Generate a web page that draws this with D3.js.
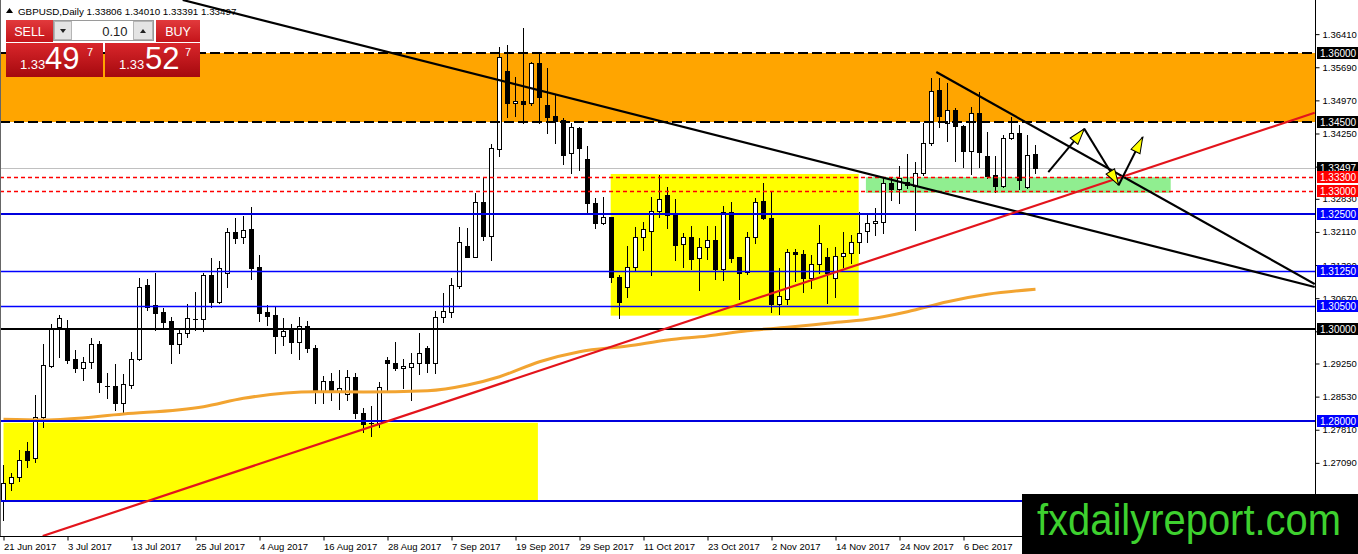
<!DOCTYPE html>
<html>
<head>
<meta charset="utf-8">
<script src="https://cdn.jsdelivr.net/npm/d3@7"></script>
<style>
  body { margin: 0; background: #fff; }
  svg { display: block; font-family: "Liberation Sans", Arial, sans-serif; }
</style>
</head>
<body>
<svg id="chart" width="1358" height="554"></svg>
<script>
// --- daily bars, GBPUSD from 21 Jun 2017 (bar index 0) ---
const opens = [1.26283,1.26645,1.26775,1.27348,1.27188,1.28094,1.29196,1.30051,1.30014,1.29348,
1.29145,1.29290,1.29667,1.28768,1.28761,1.28399,1.28783,1.29341,1.30957,1.30522,
1.30362,1.30181,1.29674,1.29906,1.30210,1.30210,1.31174,1.30594,1.31210,1.32101,
1.31993,1.32167,1.31341,1.30362,1.30304,1.29855,1.29978,1.29710,1.30072,1.29580,
1.28638,1.28870,1.28659,1.28587,1.28949,1.28167,1.27949,1.27949,1.29326,1.29254,
1.29145,1.29181,1.29254,1.29580,1.29254,1.30268,1.30377,1.30942,1.31804,1.31572,
1.32768,1.32029,1.33906,1.35609,1.34906,1.34957,1.34906,1.35775,1.34870,1.34630,
1.34543,1.33819,1.34377,1.33688,1.32732,1.32297,1.32428,1.31138,1.30906,1.31355,
1.31993,1.32138,1.32572,1.32913,1.32478,1.31841,1.31993,1.31536,1.31790,1.31935,
1.31297,1.32551,1.31558,1.31246,1.32007,1.32783,1.32406,1.30536,1.30645,1.31667,
1.31623,1.31101,1.31406,1.31572,1.31101,1.31594,1.31659,1.31884,1.32138,1.32297,
1.32333,1.33181,1.33036,1.33188,1.33109,1.33399,1.34036,1.35196,1.34471,1.34761,
1.34413,1.33877,1.34688,1.33761,1.33348,1.33109,1.34145,1.34254,1.33080,1.33806];

const highs = [1.27043,1.26862,1.27370,1.27551,1.28565,1.29674,1.30109,1.30304,1.30196,1.29543,
1.29399,1.29797,1.29739,1.29036,1.29239,1.29022,1.29493,1.31101,1.31080,1.31210,
1.30449,1.30268,1.30014,1.30543,1.30797,1.31225,1.31536,1.31478,1.32188,1.32406,
1.32457,1.32645,1.31609,1.30522,1.30500,1.30232,1.30109,1.30268,1.30181,1.29652,
1.28978,1.29051,1.29109,1.29109,1.29051,1.28275,1.28326,1.28848,1.29399,1.29725,
1.29341,1.29486,1.29906,1.29620,1.30399,1.30775,1.31101,1.32210,1.32188,1.32949,
1.33275,1.34014,1.36138,1.36174,1.35471,1.36536,1.35812,1.35993,1.35667,1.35087,
1.34580,1.34486,1.34399,1.33978,1.32841,1.32862,1.32442,1.31174,1.31804,1.32225,
1.32333,1.32877,1.33348,1.33080,1.32819,1.32080,1.32239,1.31971,1.32239,1.32239,
1.32681,1.32768,1.31572,1.32116,1.32841,1.33167,1.32971,1.31319,1.31732,1.31732,
1.31717,1.31609,1.32261,1.31754,1.31775,1.32116,1.32043,1.32551,1.32514,1.32623,
1.33275,1.33275,1.33543,1.33804,1.33638,1.34471,1.35449,1.35449,1.35355,1.34797,
1.34428,1.34833,1.35159,1.34290,1.33761,1.34217,1.34616,1.34435,1.34217,1.34010];

const lows = [1.25848,1.26500,1.26703,1.27007,1.27116,1.27877,1.29181,1.29399,1.29254,1.29072,
1.28891,1.29145,1.28623,1.28493,1.28239,1.28152,1.28710,1.29326,1.30413,1.29978,
1.30051,1.29268,1.29486,1.29833,1.29978,1.29964,1.30486,1.30572,1.30920,1.31862,
1.31862,1.31080,1.30181,1.30087,1.29471,1.29652,1.29471,1.29341,1.29507,1.28399,
1.28384,1.28457,1.28254,1.28457,1.28058,1.27768,1.27681,1.27877,1.28674,1.29109,
1.28710,1.28457,1.29022,1.29072,1.29037,1.30159,1.30268,1.30899,1.31558,1.31558,
1.31935,1.31500,1.33761,1.34616,1.34630,1.34471,1.34870,1.34471,1.34268,1.34051,
1.33587,1.33384,1.33457,1.32500,1.32188,1.32283,1.31029,1.30232,1.30703,1.31268,
1.31717,1.31174,1.32442,1.32188,1.31500,1.31355,1.31297,1.30848,1.31514,1.31080,
1.31065,1.31464,1.30645,1.31196,1.31877,1.32384,1.30377,1.30326,1.30543,1.31051,
1.30812,1.30884,1.31210,1.30572,1.30703,1.31355,1.31428,1.31659,1.31899,1.32043,
1.32080,1.32804,1.32746,1.33058,1.32152,1.33348,1.34000,1.34399,1.34094,1.33659,
1.33529,1.33370,1.33514,1.33275,1.32986,1.33080,1.34130,1.33036,1.33058,1.33391];

const closes = [1.26645,1.26775,1.27152,1.27152,1.28094,1.29210,1.30014,1.30232,1.29326,1.29145,
1.29290,1.29667,1.28855,1.28754,1.28399,1.28797,1.29341,1.30920,1.30486,1.30355,
1.30159,1.29667,1.29906,1.30232,1.30225,1.31174,1.30594,1.31319,1.32101,1.31986,
1.32152,1.31333,1.30355,1.30290,1.29855,1.29957,1.29710,1.30072,1.29580,1.28638,
1.28870,1.28674,1.28710,1.28949,1.28167,1.27935,1.27964,1.28732,1.29254,1.29145,
1.29196,1.29268,1.29471,1.29254,1.30267,1.30391,1.30957,1.31884,1.31572,1.32768,
1.32029,1.33928,1.35906,1.34906,1.34957,1.34884,1.35775,1.35051,1.34616,1.34529,
1.33783,1.34384,1.33928,1.32732,1.32297,1.32428,1.31123,1.30594,1.31355,1.31993,
1.32167,1.32572,1.32819,1.32478,1.31826,1.31993,1.31522,1.31790,1.31935,1.31297,
1.32551,1.31551,1.31225,1.32007,1.32768,1.32406,1.30536,1.30725,1.31667,1.31623,
1.31101,1.31406,1.31862,1.31210,1.31594,1.31659,1.31884,1.32080,1.32297,1.32348,
1.33181,1.33036,1.33290,1.33130,1.33399,1.34036,1.35181,1.34638,1.34761,1.34413,
1.33877,1.34688,1.33855,1.33326,1.33109,1.34145,1.34254,1.33239,1.33783,1.33497];

// moving average read at a few bars
const maIdx = [0, 5, 15, 25, 30, 39, 45, 53, 58, 62, 67, 72, 78, 83, 88, 93, 98, 103, 108, 113, 118, 123, 129];
const maVal = [1.28037,1.28022,1.28152,1.28311,1.28493,1.28637,1.28630,1.28659,1.28783,1.28963,1.29289,1.29507,
               1.29630,1.29761,1.29848,1.29963,1.30037,1.30124,1.30211,1.30376,1.30593,1.30754,1.30863];

// axis labels
const dateTickIdx = [0, 8, 16, 24, 32, 40, 48, 56, 64, 72, 80, 88, 96, 104, 112, 120];
const dateTickLabels = ["21 Jun 2017","3 Jul 2017","13 Jul 2017","25 Jul 2017","4 Aug 2017","16 Aug 2017",
  "28 Aug 2017","7 Sep 2017","19 Sep 2017","29 Sep 2017","11 Oct 2017","23 Oct 2017","2 Nov 2017",
  "14 Nov 2017","24 Nov 2017","6 Dec 2017"];
const priceTickLabels = ["1.36410","1.35690","1.34970","1.34250","1.33530","1.32830","1.32110","1.31390",
  "1.30670","1.29950","1.29250","1.28530","1.27810","1.27090","1.26370"];
// ticks whose text sits fully under a price box or the watermark
const hiddenTickLabels = ["1.33530", "1.29950", "1.26370"];

// drawn objects
const orangeZone = [1.36000, 1.34500];
const boxStart = [0, 75.9];
const boxEnd = [66.8, 106.9];
const boxTop = [1.2796, 1.3337];
const boxBottom = [1.2626, 1.3029];
const greenBox = [107.8, 145.9, 1.3330, 1.3296];
const dashedBlackLevels = [1.36000, 1.34500];
const redDashLevels = [1.33300, 1.33000];
const blueThickLevels = [1.32500, 1.28000, 1.26250];
const blueThinLevels = [1.31250, 1.30500];
const blackLevels = [1.30000];
const lastPrice = 1.33497;
const trendIdx = { a: [22.4, 163.9], b: [116.6, 163.9], red: [4.9, 163.9] };
const trendPrice = { a: [1.37152, 1.30913], b: [1.35587, 1.30978], red: [1.25500, 1.34702] };
const arrowIdx = [130.6, 135.1, 139.4, 142.4];
const arrowPrice = [1.3341, 1.3435, 1.3313, 1.3417];
const priceLabels = [1.36, 1.345, 1.33497, 1.333, 1.33, 1.325, 1.3125, 1.305, 1.30, 1.28];
const priceLabelColors = ["#000","#000","#000","#ff0000","#ff0000","#0000ff","#0000ff","#0000ff","#000","#0000ff"];

// --- layout ---
const svg = d3.select("#chart");
const plotR = 1315, plotB = 536;
const font = '"Liberation Sans", Arial, sans-serif';

const x = d3.scaleLinear().domain([0, 164]).range([3.5, 3.5 + 164 * 8]);
const y = d3.scaleLinear().domain([1.255, 1.37152]).range([plotB, 0]);
const crisp = v => Math.round(v) + 0.5;

const defs = svg.append("defs");
defs.append("clipPath").attr("id", "plotClip")
  .append("rect").attr("x", 0).attr("y", 0).attr("width", plotR).attr("height", plotB);

const gHead = defs.append("linearGradient").attr("id", "redHead").attr("x1", 0).attr("y1", 0).attr("x2", 0).attr("y2", 1);
gHead.append("stop").attr("offset", "0%").attr("stop-color", "#e23a3c");
gHead.append("stop").attr("offset", "100%").attr("stop-color", "#c4141a");
const gBig = defs.append("linearGradient").attr("id", "redBig").attr("x1", 0).attr("y1", 0).attr("x2", 0).attr("y2", 1);
gBig.append("stop").attr("offset", "0%").attr("stop-color", "#d9262b");
gBig.append("stop").attr("offset", "100%").attr("stop-color", "#a5090e");

defs.append("marker").attr("id", "yHead")
  .attr("markerUnits", "userSpaceOnUse").attr("viewBox", "0 0 18 12")
  .attr("markerWidth", 18).attr("markerHeight", 12)
  .attr("refX", 17).attr("refY", 6).attr("orient", "auto")
  .append("path").attr("d", "M1,1 L17,6 L1,11 Z")
  .attr("fill", "#ffff00").attr("stroke", "#000").attr("stroke-width", 1);

const plot = svg.append("g").attr("clip-path", "url(#plotClip)");

// zones
plot.append("rect").attr("x", 0).attr("width", plotR)
  .attr("y", y(orangeZone[0])).attr("height", y(orangeZone[1]) - y(orangeZone[0]))
  .attr("fill", "#ffa500");

plot.selectAll("rect.ybox").data(boxStart).enter().append("rect").attr("class", "ybox")
  .attr("x", (d, i) => x(d))
  .attr("width", (d, i) => x(boxEnd[i]) - x(d))
  .attr("y", (d, i) => y(boxTop[i]))
  .attr("height", (d, i) => y(boxBottom[i]) - y(boxTop[i]))
  .attr("fill", "#ffff00");

plot.append("rect")
  .attr("x", x(greenBox[0])).attr("width", x(greenBox[1]) - x(greenBox[0]))
  .attr("y", y(greenBox[2])).attr("height", y(greenBox[3]) - y(greenBox[2]))
  .attr("fill", "#90ee90");

// last price line
plot.append("line").attr("x1", 0).attr("x2", plotR)
  .attr("y1", crisp(y(lastPrice))).attr("y2", crisp(y(lastPrice)))
  .attr("stroke", "#c0c0c0").attr("stroke-width", 1);

// candles
const bars = plot.append("g");
opens.forEach((o, i) => {
  const c = closes[i];
  const cx = x(i);
  bars.append("line").attr("x1", cx).attr("x2", cx)
    .attr("y1", Math.round(y(highs[i]))).attr("y2", Math.round(y(lows[i])) + 1)
    .attr("stroke", "#000").attr("stroke-width", 1);
  const top = crisp(y(Math.max(o, c)));
  const bot = crisp(y(Math.min(o, c)));
  if (bot - top < 1) {
    bars.append("line").attr("x1", cx - 2.5).attr("x2", cx + 2.5)
      .attr("y1", top).attr("y2", top).attr("stroke", "#000");
  } else {
    bars.append("rect").attr("x", cx - 2).attr("width", 4)
      .attr("y", top).attr("height", bot - top)
      .attr("fill", c >= o ? "#fff" : "#000")
      .attr("stroke", "#000").attr("stroke-width", 1);
  }
});

// moving average
const maLine = d3.line().x((d, i) => x(maIdx[i])).y(d => y(d)).curve(d3.curveMonotoneX);
plot.append("path").datum(maVal).attr("d", maLine)
  .attr("fill", "none").attr("stroke", "#f2a431").attr("stroke-width", 3);

// horizontal levels
function hLines(levels, color, width, dash) {
  plot.selectAll(null).data(levels).enter().append("line")
    .attr("x1", 0).attr("x2", plotR)
    .attr("y1", d => Math.round(width) % 2 ? crisp(y(d)) : Math.round(y(d)))
    .attr("y2", d => Math.round(width) % 2 ? crisp(y(d)) : Math.round(y(d)))
    .attr("stroke", color).attr("stroke-width", width)
    .attr("stroke-dasharray", dash);
}
hLines(redDashLevels, "#ff0000", 1.4, "4,3");
hLines(blueThinLevels, "#0000ff", 1.4, null);
hLines(blueThickLevels, "#0000dd", 2, null);
hLines(blackLevels, "#000", 2, null);
hLines(dashedBlackLevels, "#000", 2, "10,4");

// trend lines
[["a", "#000"], ["b", "#000"], ["red", "#e3141c"]].forEach(([k, col]) => {
  plot.append("line")
    .attr("x1", x(trendIdx[k][0])).attr("y1", y(trendPrice[k][0]))
    .attr("x2", x(trendIdx[k][1])).attr("y2", y(trendPrice[k][1]))
    .attr("stroke", col).attr("stroke-width", 2.2);
});

// projected path arrows
for (let i = 0; i < arrowIdx.length - 1; i++) {
  plot.append("line")
    .attr("x1", x(arrowIdx[i])).attr("y1", y(arrowPrice[i]))
    .attr("x2", x(arrowIdx[i + 1])).attr("y2", y(arrowPrice[i + 1]))
    .attr("stroke", "#000").attr("stroke-width", 2)
    .attr("marker-end", "url(#yHead)");
}

// axes
const yAxis = d3.axisRight(y)
  .tickValues(priceTickLabels.map(Number))
  .tickFormat(d => {
    const s = d3.format(".5f")(d);
    return hiddenTickLabels.includes(s) ? "" : s;
  })
  .tickSize(4).tickPadding(3);
const gy = svg.append("g").attr("transform", `translate(${plotR + 0.5},0)`).call(yAxis);
gy.select(".domain").remove();
gy.attr("font-size", 9.5).attr("font-family", font);
gy.selectAll("text").attr("fill", "#000");

const xAxis = d3.axisBottom(x)
  .tickValues(dateTickIdx)
  .tickFormat((d, i) => dateTickLabels[i])
  .tickSize(4).tickPadding(3);
const gx = svg.append("g").attr("transform", `translate(0,${plotB + 0.5})`).call(xAxis);
gx.select(".domain").remove();
gx.attr("font-size", 9.5).attr("font-family", font);
gx.selectAll("text").attr("text-anchor", "start").attr("dx", 0).attr("fill", "#000");

svg.append("line").attr("x1", plotR + 0.5).attr("x2", plotR + 0.5).attr("y1", 0).attr("y2", plotB + 5)
  .attr("stroke", "#000");
svg.append("line").attr("x1", 0).attr("x2", plotR).attr("y1", plotB + 0.5).attr("y2", plotB + 0.5)
  .attr("stroke", "#000");
svg.append("line").attr("x1", 0.5).attr("x2", 0.5).attr("y1", 0).attr("y2", plotB)
  .attr("stroke", "#666");

// price labels on the axis
const pl = svg.append("g").selectAll("g").data(priceLabels).enter().append("g")
  .attr("transform", d => `translate(${plotR + 2},${Math.round(y(d))})`);
pl.append("rect").attr("x", 0).attr("y", -6).attr("width", 41).attr("height", 12)
  .attr("fill", (d, i) => priceLabelColors[i]);
pl.append("text").attr("x", 3).attr("y", 4).attr("font-size", 10).attr("font-family", font)
  .attr("fill", "#fff").text(d => d3.format(".5f")(d));

// header line
svg.append("path").attr("d", "M6,13 L9.5,8 L13,13 Z").attr("fill", "#000");
svg.append("text").attr("x", 18).attr("y", 14.5).attr("font-size", 9.8).attr("font-family", font)
  .attr("fill", "#000").text("GBPUSD,Daily 1.33806 1.34010 1.33391 1.33497");

// one-click trading panel
const panel = svg.append("g").attr("font-family", font);
panel.append("rect").attr("x", 6).attr("y", 20).attr("width", 47).attr("height", 22).attr("fill", "url(#redHead)");
panel.append("rect").attr("x", 156).attr("y", 20).attr("width", 44).attr("height", 22).attr("fill", "url(#redHead)");
panel.append("text").attr("x", 29.5).attr("y", 35.5).attr("text-anchor", "middle").attr("font-size", 12.5)
  .attr("fill", "#fff").text("SELL");
panel.append("text").attr("x", 178).attr("y", 35.5).attr("text-anchor", "middle").attr("font-size", 12.5)
  .attr("fill", "#fff").text("BUY");
panel.append("rect").attr("x", 53.5).attr("y", 20.5).attr("width", 100).attr("height", 20)
  .attr("fill", "#fff").attr("stroke", "#9a9a9a");
panel.append("rect").attr("x", 54.5).attr("y", 21.5).attr("width", 17).attr("height", 18)
  .attr("fill", "#e4e4e4").attr("stroke", "#b5b5b5");
panel.append("rect").attr("x", 133.5).attr("y", 21.5).attr("width", 19).attr("height", 18)
  .attr("fill", "#e4e4e4").attr("stroke", "#b5b5b5");
panel.append("path").attr("d", "M60,29 L66,29 L63,33 Z").attr("fill", "#222");
panel.append("path").attr("d", "M140,33 L146,33 L143,29 Z").attr("fill", "#222");
panel.append("text").attr("x", 127.5).attr("y", 35.5).attr("text-anchor", "end").attr("font-size", 13)
  .attr("fill", "#222").text("0.10");
panel.append("rect").attr("x", 6).attr("y", 43).attr("width", 97).attr("height", 34).attr("fill", "url(#redBig)");
panel.append("rect").attr("x", 105).attr("y", 43).attr("width", 95).attr("height", 34).attr("fill", "url(#redBig)");
[[20, 45, 87, "49"], [119, 145, 185, "52"]].forEach(([a, b, c, big]) => {
  panel.append("text").attr("x", a).attr("y", 69).attr("font-size", 13).attr("fill", "#fff").text("1.33");
  panel.append("text").attr("x", b).attr("y", 69).attr("font-size", 31)
    .attr("fill", "#fff").text(big);
  panel.append("text").attr("x", c).attr("y", 55.5).attr("font-size", 11).attr("fill", "#fff").text("7");
});

// watermark
svg.append("rect").attr("x", 1022).attr("y", 494).attr("width", 336).attr("height", 60).attr("fill", "#000");
svg.append("text").attr("x", 1037).attr("y", 535).attr("font-size", 44).attr("font-family", font)
  .attr("textLength", 304).attr("lengthAdjust", "spacingAndGlyphs")
  .attr("fill", "#3ed12f").text("fxdailyreport.com");
</script>
</body>
</html>
